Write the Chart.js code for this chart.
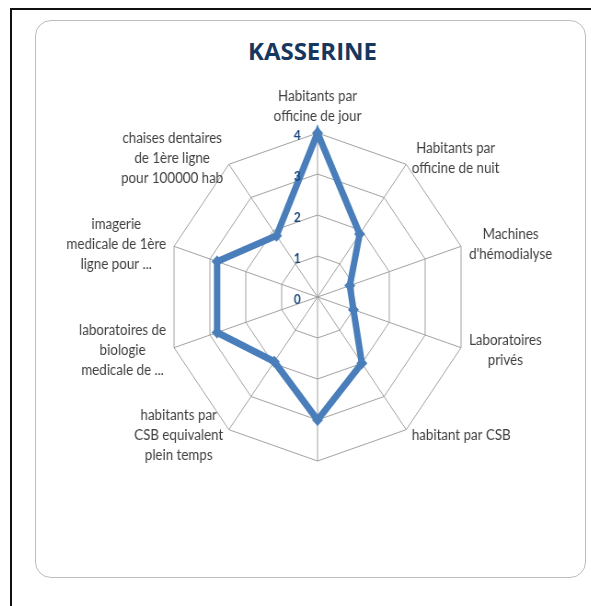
<!DOCTYPE html>
<html>
<head>
<meta charset="utf-8">
<script src="https://cdn.jsdelivr.net/npm/chart.js@4"></script>
<style>
  body { margin: 0; background: #fff; width: 591px; height: 606px; overflow: hidden; position: relative; }
  #cadre { position: absolute; left: 10px; top: 8px; width: 600px; height: 620px; border-left: 2px solid #111; border-top: 2px solid #111; }
  #boite { position: absolute; left: 35px; top: 20px; width: 549px; height: 556px; border: 1.5px solid #bdbdbd; border-radius: 16px; background: #fff; }
  #titre { position: absolute; left: 0; top: 15px; width: 553px; text-align: center; font: bold 24px/30px "Open Sans", sans-serif; color: #17375E; }
  #zone { position: absolute; left: 0; top: 0; width: 600px; height: 556px; transform: scaleX(0.92); transform-origin: 0 0; }
</style>
</head>
<body>
<div id="cadre"></div>
<div id="boite">
  <div id="titre">KASSERINE</div>
  <div id="zone"><canvas id="myChart"></canvas></div>
</div>
<script>
const categories = [
  ["Habitants par", "officine de jour"],
  ["Habitants par", "officine de nuit"],
  ["Machines", "d'hémodialyse"],
  ["Laboratoires", "privés"],
  "habitant par CSB",
  "",
  ["habitants par", "CSB equivalent", "plein temps"],
  ["laboratoires de", "biologie", "medicale de ..."],
  ["imagerie", "medicale de 1ère", "ligne pour ..."],
  ["chaises dentaires", "de 1ère ligne", "pour 100000 hab"]
];
const valeurs = [4, 1.9, 0.9, 1, 2, 3, 1.95, 2.8, 2.8, 1.85];
const graduations = [0, 1, 2, 3, 4];

(function () {
  const ctx = document.getElementById("myChart");

  // graduations à gauche de l'axe vertical + libellés centrés (façon Excel)
  const habillage = {
    id: "habillage",
    afterDraw(chart) {
      const r = chart.scales.r;
      const c = chart.ctx;
      c.save();
      c.font = "bold 13px Lato";
      c.fillStyle = "#1F497D";
      c.textAlign = "center";
      c.textBaseline = "middle";
      graduations.forEach((g) => {
        const d = r.getDistanceFromCenterForValue(g);
        c.fillText(String(g), r.xCenter - 22, r.yCenter - d + 3);
      });

      c.font = "14.5px Lato";
      c.fillStyle = "#404040";
      const pas = 20;
      categories.forEach((lab, i) => {
        const lignes = Array.isArray(lab) ? lab : [lab];
        if (!lignes[0]) return;
        const a = r.getPointPosition(i, r.drawingArea + 7);
        const largeur = Math.max(...lignes.map((t) => c.measureText(t).width));
        const dx = a.x - r.xCenter;
        let cx, cy;
        if (Math.abs(dx) < 1) {
          cx = a.x;
          cy = a.y < r.yCenter ? a.y - (pas * lignes.length) / 2 : a.y + (pas * lignes.length) / 2;
        } else {
          cx = dx > 0 ? a.x + 2 + largeur / 2 : a.x - 2 - largeur / 2;
          cy = a.y;
        }
        const y0 = cy - (pas * (lignes.length - 1)) / 2;
        lignes.forEach((t, k) => c.fillText(t, cx, y0 + k * pas));
      });
      c.restore();
    }
  };

  new Chart(ctx, {
    type: "radar",
    data: {
      labels: categories,
      datasets: [
        {
          label: "KASSERINE",
          data: valeurs,
          borderColor: "#4A7EBB",
          backgroundColor: "#4A7EBB",
          borderWidth: 7,
          fill: false,
          pointStyle: "rectRot",
          pointRadius: 6,
          pointBackgroundColor: "#4A7EBB",
          pointBorderWidth: 0,
          tension: 0
        }
      ]
    },
    options: {
      responsive: true,
      maintainAspectRatio: false,
      animation: false,
      layout: { padding: { top: 112.5, bottom: 115.5, left: 12, right: 0 } },
      plugins: {
        legend: { display: false },
        tooltip: { enabled: false },
        title: { display: false }
      },
      scales: {
        r: {
          min: 0,
          max: 4,
          beginAtZero: true,
          ticks: { display: false, stepSize: 1 },
          grid: { color: "#a0a0a0", lineWidth: 1 },
          angleLines: { color: "#a0a0a0", lineWidth: 1 },
          pointLabels: { display: false }
        }
      }
    },
    plugins: [habillage]
  });
})();
</script>
</body>
</html>
